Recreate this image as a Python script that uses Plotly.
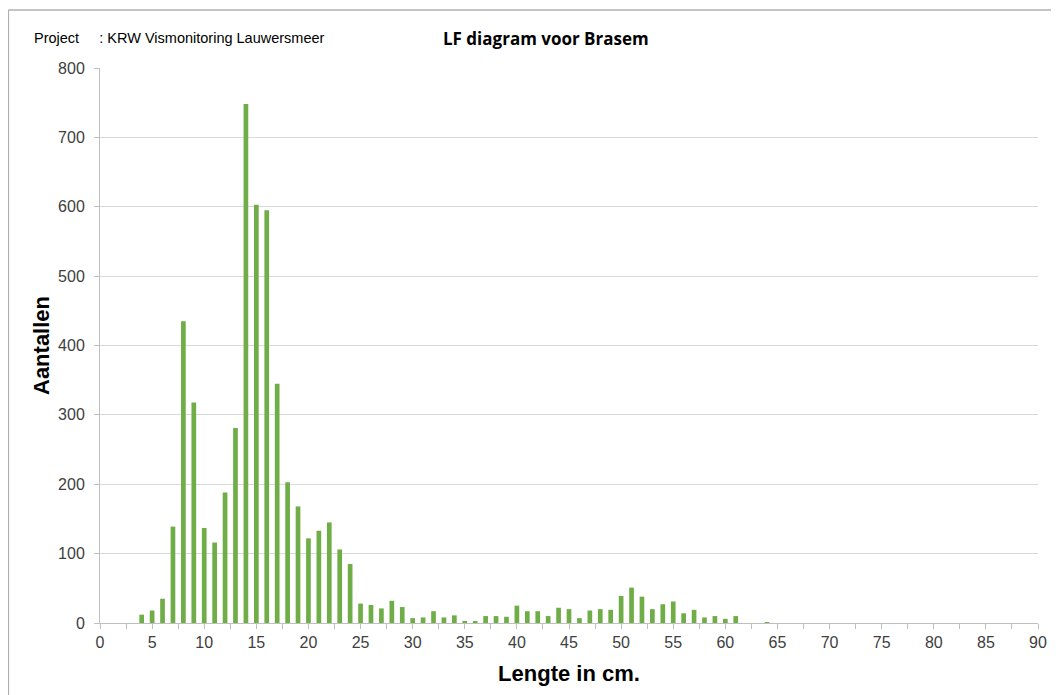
import plotly.graph_objects as go

# Lengteklassen (cm) en aantallen Brasem
lengths = [4, 5, 6, 7, 8, 9, 10, 11, 12, 13, 14, 15, 16, 17, 18, 19, 20,
           21, 22, 23, 24, 25, 26, 27, 28, 29, 30, 31, 32, 33, 34, 35, 36,
           37, 38, 39, 40, 41, 42, 43, 44, 45, 46, 47, 48, 49, 50, 51, 52,
           53, 54, 55, 56, 57, 58, 59, 60, 61, 64]
counts = [12, 18, 35, 139, 435, 318, 137, 116, 188, 281, 748, 603, 595, 345,
          203, 168, 122, 133, 145, 106, 85, 28, 26, 21, 32, 23, 7, 8, 17, 8,
          11, 3, 2, 10, 10, 9, 25, 17, 17, 10, 22, 20, 7, 18, 20, 19, 39, 51,
          38, 20, 27, 31, 14, 19, 8, 10, 6, 10, 1]

x_tickvals = [i * 2.5 for i in range(37)]
x_ticktext = [str(int(v)) if v % 5 == 0 else "" for v in x_tickvals]
y_tickvals = [0, 100, 200, 300, 400, 500, 600, 700, 800]

axis_grey = "#bfbfbf"
text_grey = "#404040"

fig = go.Figure()
fig.add_trace(go.Bar(
    x=lengths,
    y=counts,
    width=0.45,
    marker=dict(color="#6fad47", line=dict(width=0)),
    showlegend=False
))

# de pagina heeft 8px body-marge, daarom iets kleiner en minder marge
fig.update_layout(
    width=1051,
    height=687,
    margin=dict(l=92, r=17, t=60, b=72),
    paper_bgcolor="white",
    plot_bgcolor="white",
    font=dict(family="Liberation Sans, Arial, sans-serif", color=text_grey),
    xaxis=dict(
        range=[0, 90],
        tickmode="array",
        tickvals=x_tickvals,
        ticktext=x_ticktext,
        ticks="outside",
        ticklen=5,
        tickcolor=axis_grey,
        showline=True,
        linecolor=axis_grey,
        showgrid=False,
        zeroline=False,
        tickfont=dict(size=16, color=text_grey),
        title=dict(text="<b>Lengte in cm.</b>",
                   font=dict(size=22, color="black"), standoff=15),
    ),
    yaxis=dict(
        range=[0, 800],
        tickmode="array",
        tickvals=y_tickvals,
        ticks="outside",
        ticklen=5,
        tickcolor=axis_grey,
        ticklabelstandoff=6,
        showline=True,
        linecolor=axis_grey,
        showgrid=True,
        gridcolor="#d9d9d9",
        zeroline=False,
        tickfont=dict(size=16, color=text_grey),
        title=dict(text="<b>Aantallen</b>",
                   font=dict(size=22, color="black"), standoff=2),
    ),
    shapes=[
        dict(type="line", xref="paper", yref="paper",
             x0=-0.0977, x1=1.02, y0=1.1045, y1=1.1045,
             line=dict(color="#b0b0b0", width=1.5)),
        dict(type="line", xref="paper", yref="paper",
             x0=-0.0977, x1=-0.0977, y0=1.1045, y1=-0.14,
             line=dict(color="#b0b0b0", width=1.5)),
    ],
    annotations=[
        dict(text="Project     : KRW Vismonitoring Lauwersmeer",
             xref="paper", yref="paper", x=-0.0722, y=1.054,
             xanchor="left", yanchor="middle", showarrow=False,
             font=dict(size=14.5, color="black")),
        dict(text="<b>LF diagram voor Brasem</b>",
             xref="paper", yref="paper", x=0.4756, y=1.054,
             xanchor="center", yanchor="middle", showarrow=False,
             font=dict(family="Open Sans, sans-serif", size=17, color="black")),
    ],
)

fig.write_html("out.html")
